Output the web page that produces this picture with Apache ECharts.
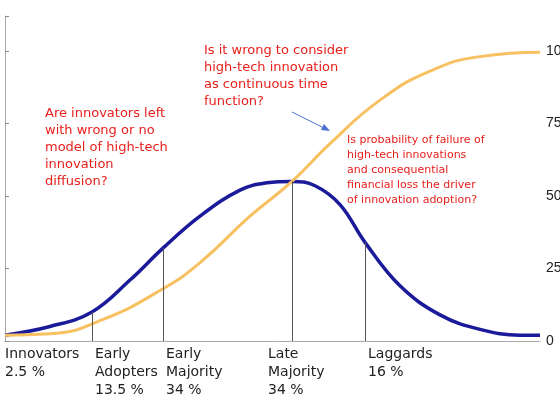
<!DOCTYPE html>
<html><head><meta charset="utf-8">
<script src="https://cdn.jsdelivr.net/npm/echarts@6/dist/echarts.min.js"></script>
<style>html,body{margin:0;background:#fff}#c{width:560px;height:420px}</style>
</head><body><div id="c"></div>
<script>
// positions along the horizontal axis (0..535), shares in %
var bellX = [0, 45, 87, 125, 158, 195, 235, 262, 287, 310, 335, 360, 395, 435, 475, 515, 535];
var bellY = [2, 5, 10, 21, 32, 43, 52, 54.5, 55, 53.5, 47, 34, 19, 9, 4, 2, 2];
var sX = [0, 45, 95, 158, 195, 245, 287, 325, 375, 425, 475, 535];
var sY = [2, 2.5, 7, 18, 27, 43, 55, 68, 83, 93, 98, 99.5];
var splitX = [87, 158, 287, 360];
var splitY = [10, 32, 55, 34];
var yTicks = [0, 25, 50, 75, 100];
var groups = ['Innovators\n2.5 %', 'Early\nAdopters\n13.5 %', 'Early\nMajority\n34 %', 'Late\nMajority\n34 %', 'Laggards\n16 %'];
var groupX = [5, 95, 166, 268, 368];

var chart = echarts.init(document.getElementById('c'));
var pair = function (xs, ys) { return xs.map(function (x, i) { return [x, ys[i]]; }); };
var red = '#e8201c';
var graphics = groups.map(function (g, i) {
  return { type: 'text', left: groupX[i], top: 345, style: { text: g, font: '14px "DejaVu Sans"', fill: '#222', lineHeight: 18 } };
});
graphics.push(
  { type: 'text', left: 204, top: 42, style: { text: 'Is it wrong to consider\nhigh-tech innovation\nas continuous time\nfunction?', font: '13px "DejaVu Sans"', fill: red, lineHeight: 17 } },
  { type: 'text', left: 45, top: 105, style: { text: 'Are innovators left\nwith wrong or no\nmodel of high-tech\ninnovation\ndiffusion?', font: '13px "DejaVu Sans"', fill: red, lineHeight: 17 } },
  { type: 'text', left: 347, top: 133, style: { text: 'Is probability of failure of\nhigh-tech innovations\nand consequential\nfinancial loss the driver\nof innovation adoption?', font: '11px "DejaVu Sans"', fill: red, lineHeight: 15 } },
  { type: 'line', shape: { x1: 292, y1: 112, x2: 326, y2: 129 }, style: { stroke: '#4a6fd0', lineWidth: 1 } },
  { type: 'polygon', shape: { points: [[330, 131], [321, 130], [324, 124]] }, style: { fill: '#4a6fd0' } }
);
chart.setOption({
  animation: false,
  grid: { left: 5, right: 20, top: 16, bottom: 79, containLabel: false, outerBoundsMode: 'none' },
  xAxis: { type: 'value', min: 0, max: 535, axisLine: { show: true, onZero: false, lineStyle: { color: '#aaa' } }, axisTick: { show: false }, axisLabel: { show: false }, splitLine: { show: false } },
  yAxis: {
    type: 'value', position: 'right', min: 0, max: 112, interval: 25,
    axisLine: { show: true, lineStyle: { color: '#aaa' } },
    axisTick: { show: true, length: 4, lineStyle: { color: '#888' } },
    axisLabel: { color: '#222', fontSize: 14, margin: 6, formatter: function (v) { return yTicks.indexOf(v) >= 0 ? v : ''; } },
    splitLine: { show: false },
    name: 'Market share %', nameLocation: 'middle', nameRotate: -90, nameGap: 34, nameTextStyle: { fontSize: 14, color: '#222' }
  },
  graphic: graphics,
  series: [
    { type: 'line', smooth: 0.4, symbol: 'none', data: pair(bellX, bellY), lineStyle: { color: '#1a1a9a', width: 3.5 },
      markLine: { symbol: 'none', silent: true, label: { show: false }, lineStyle: { color: '#555', width: 1, type: 'solid' },
        data: splitX.map(function (x, i) { return [{ coord: [x, 0] }, { coord: [x, splitY[i]] }]; }) } },
    { type: 'line', smooth: true, symbol: 'none', data: pair(sX, sY), lineStyle: { color: '#f7c060', width: 3 } }
  ]
});
</script></body></html>
